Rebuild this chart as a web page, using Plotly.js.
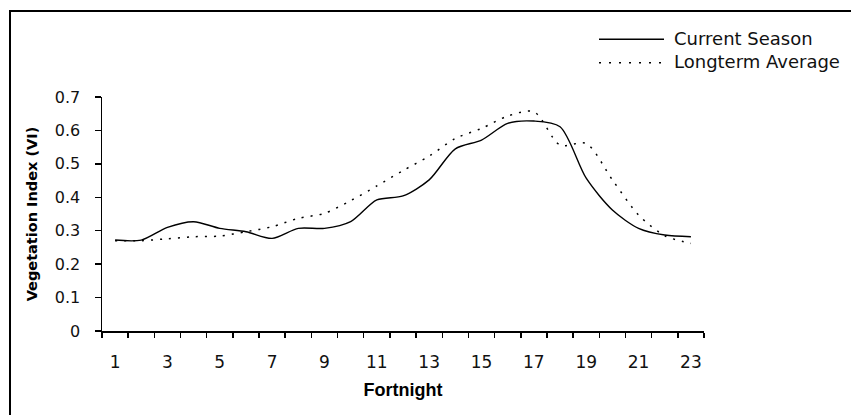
<!DOCTYPE html>
<html>
<head>
<meta charset="utf-8">
<script src="https://cdn.plot.ly/plotly-3.0.1.min.js"></script>
<style>html,body{margin:0;padding:0;background:#fff;}#chart{width:851px;height:415px;}</style>
</head>
<body>
<div id="chart"></div>
<script>
// ---- data ----
var fortnights = [1,2,3,4,5,6,7,8,9,10,11,12,13,14,15,16,17,18,19,20,21,22,23];
var currentSeason = [0.272,0.272,0.31,0.327,0.307,0.297,0.277,0.307,0.307,0.327,0.392,0.404,0.452,0.545,0.571,0.621,0.628,0.611,0.457,0.362,0.307,0.287,0.282];
var longtermAverage = [0.27,0.27,0.276,0.282,0.284,0.297,0.312,0.337,0.352,0.39,0.434,0.48,0.523,0.576,0.606,0.643,0.656,0.556,0.561,0.452,0.347,0.285,0.262];
var xTickVals = [1,3,5,7,9,11,13,15,17,19,21,23];
var xTickText = ["1","3","5","7","9","11","13","15","17","19","21","23"];
var yTickVals = [0,0.1,0.2,0.3,0.4,0.5,0.6,0.7];
var yTickText = ["0","0.1","0.2","0.3","0.4","0.5","0.6","0.7"];
var seriesNames = ["Current Season","Longterm Average"];

// ---- layout geometry ----
var W = 851, H = 415, mL = 102, mR = 147, mT = 97, mB = 84;
var pw = W - mL - mR, ph = H - mT - mB;
function px2x(px){ return (px - mL) / pw; }
function py2y(py){ return (H - mB - py) / ph; }

var traces = [
  {x: fortnights, y: currentSeason, name: seriesNames[0], type: 'scatter', mode: 'lines',
   line: {color: '#000', width: 1.4, shape: 'spline', smoothing: 0.8}, showlegend: false},
  {x: fortnights, y: longtermAverage, name: seriesNames[1], type: 'scatter', mode: 'lines',
   line: {color: '#000', width: 1.5, dash: '2px,7px', shape: 'spline', smoothing: 0.8}, showlegend: false}
];

var legY1 = 39.3, legY2 = 62.7;
var layout = {
  width: W, height: H,
  margin: {l: mL, r: mR, t: mT, b: mB, pad: 0},
  paper_bgcolor: '#fff', plot_bgcolor: '#fff',
  showlegend: false,
  xaxis: {
    range: [0.5, 23.5], tickmode: 'array', tickvals: xTickVals, ticktext: xTickText,
    showline: true, linecolor: '#000', linewidth: 1.5, mirror: false,
    ticks: 'outside', ticklen: 5, tickcolor: 'rgba(0,0,0,0)',
    minor: {tickmode: 'linear', tick0: 0.5, dtick: 1, ticks: 'outside', ticklen: 5, tickcolor: '#000', tickwidth: 1.5, showgrid: false},
    showgrid: false, zeroline: false,
    tickfont: {family: 'DejaVu Sans', size: 17, color: '#111'},
    ticklabelstandoff: 10,
    title: {text: 'Fortnight', font: {family: 'Liberation Sans', size: 18, weight: 'bold', color: '#000'}, standoff: 12}
  },
  yaxis: {
    range: [0, 0.7], tickmode: 'array', tickvals: yTickVals, ticktext: yTickText,
    showline: true, linecolor: '#000', linewidth: 1.5,
    ticks: 'outside', ticklen: 6, tickcolor: '#000', tickwidth: 1.5,
    showgrid: false, zeroline: false,
    tickfont: {family: 'DejaVu Sans', size: 16, color: '#111'},
    ticklabelstandoff: 11,
    title: {text: 'Vegetation Index (VI)', font: {family: 'DejaVu Sans', size: 14.5, weight: 'bold', color: '#000'}, standoff: 14}
  },
  shapes: [
    {type: 'rect', xref: 'paper', yref: 'paper', x0: px2x(10), x1: 3, y0: -3, y1: py2y(11),
     line: {color: '#000', width: 2}, fillcolor: 'rgba(0,0,0,0)'},
    {type: 'line', xref: 'paper', yref: 'paper', x0: px2x(599), x1: px2x(664), y0: py2y(legY1), y1: py2y(legY1),
     line: {color: '#000', width: 1.4}},
    {type: 'line', xref: 'paper', yref: 'paper', x0: px2x(599), x1: px2x(664), y0: py2y(legY2), y1: py2y(legY2),
     line: {color: '#000', width: 1.5, dash: '2px,8px'}}
  ],
  annotations: [
    {xref: 'paper', yref: 'paper', x: px2x(672), y: py2y(legY1 - 1), xanchor: 'left', yanchor: 'middle',
     text: seriesNames[0], showarrow: false, font: {family: 'DejaVu Sans', size: 18, color: '#111'}},
    {xref: 'paper', yref: 'paper', x: px2x(672), y: py2y(legY2 - 1), xanchor: 'left', yanchor: 'middle',
     text: seriesNames[1], showarrow: false, font: {family: 'DejaVu Sans', size: 18, color: '#111'}}
  ]
};

Plotly.newPlot('chart', traces, layout, {displayModeBar: false, staticPlot: true});
</script>
</body>
</html>
